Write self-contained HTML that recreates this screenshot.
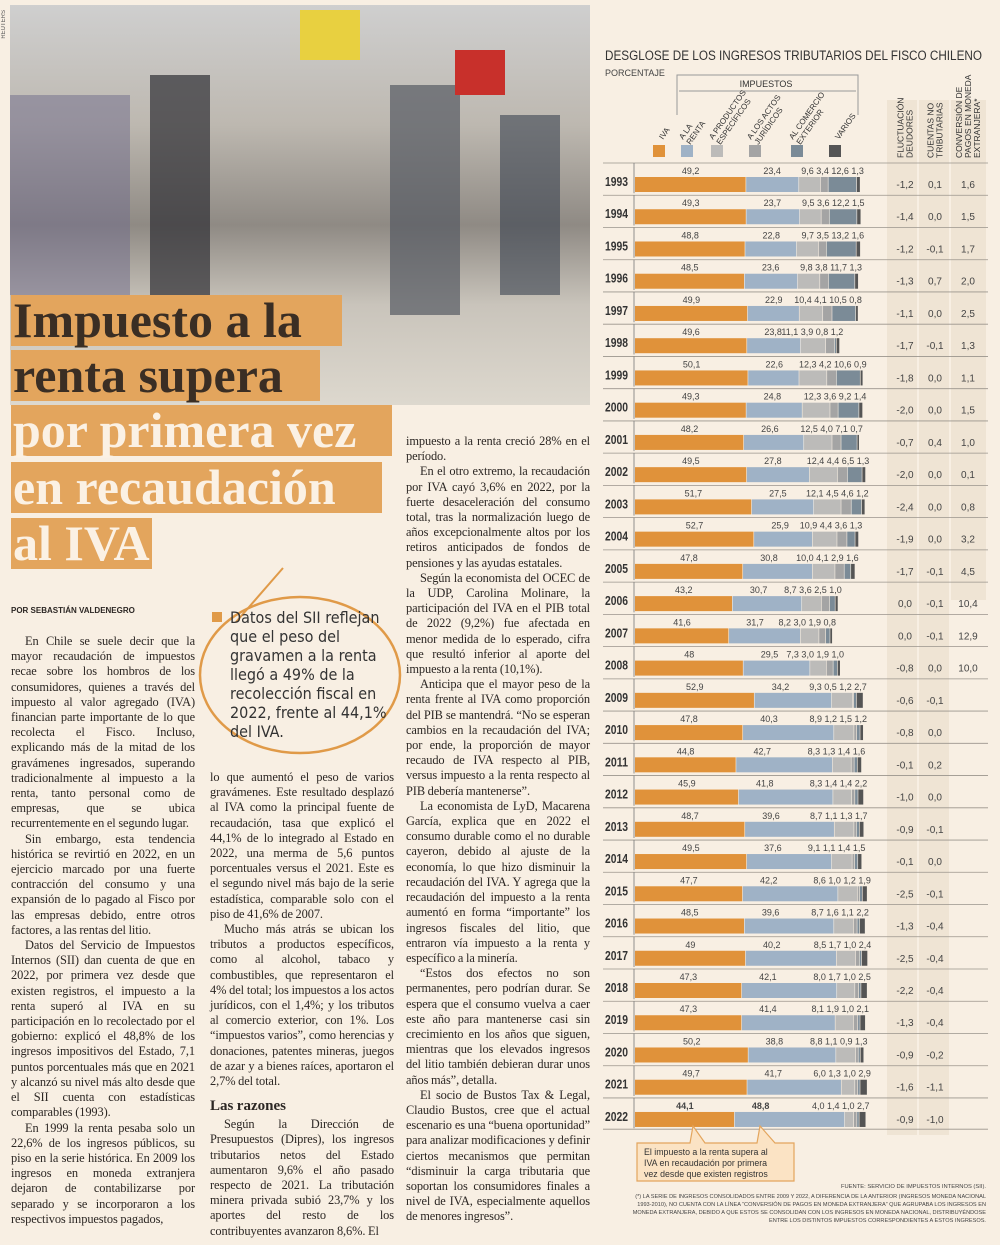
<!DOCTYPE html>
<html><head><meta charset="utf-8">
<style>
*{margin:0;padding:0;box-sizing:border-box}
body{width:1000px;height:1245px;background:#f8efe3;position:relative;overflow:hidden;font-family:"Liberation Serif",serif;color:#2c2724}
.photo{position:absolute;left:10px;top:5px;width:580px;height:400px;background:linear-gradient(180deg,#cfcfcf 0%,#bdb8b0 30%,#8f8a84 55%,#c9c4bb 75%,#ddd8ce 100%)}
.hl{position:absolute;left:11px;height:51px;background:#e3a55d;font-family:"Liberation Serif",serif;font-weight:bold;font-size:50px;line-height:51px;padding-left:2px;white-space:nowrap}
.dark{color:#3a2e24}.light{color:#fbf1e4}
.col{position:absolute;font-size:12.4px;line-height:15.2px;text-align:justify;letter-spacing:-0.1px;word-spacing:-0.3px}
.col p{text-indent:14px}
.byline{position:absolute;left:11px;top:606px;font:bold 8px "Liberation Sans",sans-serif}
.pq{position:absolute;left:230px;top:608px;width:160px;font:16px/19px "DejaVu Sans Condensed","DejaVu Sans",sans-serif;color:#333}
</style></head><body>
<div class="photo">
 <div style="position:absolute;left:0;top:90px;width:120px;height:200px;background:#6e6a8a;opacity:.5"></div>
 <div style="position:absolute;left:140px;top:70px;width:60px;height:230px;background:#2f2f35;opacity:.7"></div>
 <div style="position:absolute;left:380px;top:80px;width:70px;height:230px;background:#555a63;opacity:.7"></div>
 <div style="position:absolute;left:490px;top:110px;width:60px;height:180px;background:#3b4250;opacity:.6"></div>
 <div style="position:absolute;left:290px;top:5px;width:60px;height:50px;background:#e8d040"></div>
 <div style="position:absolute;left:445px;top:45px;width:50px;height:45px;background:#c8302b"></div>
</div>
<div style="position:absolute;left:1px;top:10px;font:6px 'Liberation Sans',sans-serif;writing-mode:vertical-rl;transform:rotate(180deg);color:#555">REUTERS</div>
<div class="hl dark" style="top:295px;width:331px">Impuesto a la</div>
<div class="hl dark" style="top:350px;width:309px">renta supera</div>
<div class="hl light" style="top:405px;width:381px">por primera vez</div>
<div class="hl light" style="top:462px;width:371px">en recaudación</div>
<div class="hl light" style="top:518px;width:141px">al IVA</div>

<svg style="position:absolute;left:0;top:0" width="600" height="800">
 <ellipse cx="300" cy="675" rx="100" ry="78" fill="none" stroke="#e09a48" stroke-width="2.5"/>
 <line x1="283" y1="568" x2="236" y2="622" stroke="#e09a48" stroke-width="2"/>
 <rect x="212" y="612" width="10" height="10" fill="#e09a48"/>
</svg>
<div class="pq">Datos del SII reflejan que el peso del gravamen a la renta llegó a 49% de la recolección fiscal en 2022, frente al 44,1% del IVA.</div>
<div class="byline">POR SEBASTIÁN VALDENEGRO</div>

<div class="col" style="left:11px;top:634px;width:184px">
<p>En Chile se suele decir que la mayor recaudación de impuestos recae sobre los hombros de los consumidores, quienes a través del impuesto al valor agregado (IVA) financian parte importante de lo que recolecta el Fisco. Incluso, explicando más de la mitad de los gravámenes ingresados, superando tradicionalmente al impuesto a la renta, tanto personal como de empresas, que se ubica recurrentemente en el segundo lugar.</p>
<p>Sin embargo, esta tendencia histórica se revirtió en 2022, en un ejercicio marcado por una fuerte contracción del consumo y una expansión de lo pagado al Fisco por las empresas debido, entre otros factores, a las rentas del litio.</p>
<p>Datos del Servicio de Impuestos Internos (SII) dan cuenta de que en 2022, por primera vez desde que existen registros, el impuesto a la renta superó al IVA en su participación en lo recolectado por el gobierno: explicó el 48,8% de los ingresos impositivos del Estado, 7,1 puntos porcentuales más que en 2021 y alcanzó su nivel más alto desde que el SII cuenta con estadísticas comparables (1993).</p>
<p>En 1999 la renta pesaba solo un 22,6% de los ingresos públicos, su piso en la serie histórica. En 2009 los ingresos en moneda extranjera dejaron de contabilizarse por separado y se incorporaron a los respectivos impuestos pagados,</p>
</div>
<div class="col" style="left:210px;top:770px;width:184px">
<p style="text-indent:0">lo que aumentó el peso de varios gravámenes. Este resultado desplazó al IVA como la principal fuente de recaudación, tasa que explicó el 44,1% de lo integrado al Estado en 2022, una merma de 5,6 puntos porcentuales versus el 2021. Este es el segundo nivel más bajo de la serie estadística, comparable solo con el piso de 41,6% de 2007.</p>
<p>Mucho más atrás se ubican los tributos a productos específicos, como al alcohol, tabaco y combustibles, que representaron el 4% del total; los impuestos a los actos jurídicos, con el 1,4%; y los tributos al comercio exterior, con 1%. Los “impuestos varios”, como herencias y donaciones, patentes mineras, juegos de azar y a bienes raíces, aportaron el 2,7% del total.</p>
<div style="font:bold 15px/22px 'Liberation Serif',serif;margin-top:6px;letter-spacing:0">Las razones</div>
<p>Según la Dirección de Presupuestos (Dipres), los ingresos tributarios netos del Estado aumentaron 9,6% el año pasado respecto de 2021. La tributación minera privada subió 23,7% y los aportes del resto de los contribuyentes avanzaron 8,6%. El</p>
</div>
<div class="col" style="left:406px;top:434px;width:184px">
<p style="text-indent:0">impuesto a la renta creció 28% en el período.</p>
<p>En el otro extremo, la recaudación por IVA cayó 3,6% en 2022, por la fuerte desaceleración del consumo total, tras la normalización luego de años excepcionalmente altos por los retiros anticipados de fondos de pensiones y las ayudas estatales.</p>
<p>Según la economista del OCEC de la UDP, Carolina Molinare, la participación del IVA en el PIB total de 2022 (9,2%) fue afectada en menor medida de lo esperado, cifra que resultó inferior al aporte del impuesto a la renta (10,1%).</p>
<p>Anticipa que el mayor peso de la renta frente al IVA como proporción del PIB se mantendrá. “No se esperan cambios en la recaudación del IVA; por ende, la proporción de mayor recaudo de IVA respecto al PIB, versus impuesto a la renta respecto al PIB debería mantenerse”.</p>
<p>La economista de LyD, Macarena García, explica que en 2022 el consumo durable como el no durable cayeron, debido al ajuste de la economía, lo que hizo disminuir la recaudación del IVA. Y agrega que la recaudación del impuesto a la renta aumentó en forma “importante” los ingresos fiscales del litio, que entraron vía impuesto a la renta y específico a la minería.</p>
<p>“Estos dos efectos no son permanentes, pero podrían durar. Se espera que el consumo vuelva a caer este año para mantenerse casi sin crecimiento en los años que siguen, mientras que los elevados ingresos del litio también debieran durar unos años más”, detalla.</p>
<p>El socio de Bustos Tax &amp; Legal, Claudio Bustos, cree que el actual escenario es una “buena oportunidad” para analizar modificaciones y definir ciertos mecanismos que permitan “disminuir la carga tributaria que soportan los consumidores finales a nivel de IVA, especialmente aquellos de menores ingresos”.</p>
</div>

<svg id="chart" style="position:absolute;left:0;top:0" width="1000" height="1245" font-family="Liberation Sans, sans-serif">
 <rect x="887" y="100" width="30" height="1035" fill="#efe4d4"/>
 <rect x="919" y="100" width="30" height="1035" fill="#efe4d4"/>
 <rect x="951" y="100" width="35" height="500" fill="#efe4d4"/>
 <text x="605" y="60" font-size="13.5" fill="#333" textLength="377" lengthAdjust="spacingAndGlyphs">DESGLOSE DE LOS INGRESOS TRIBUTARIOS DEL FISCO CHILENO</text>
 <text x="605" y="76" font-size="9" fill="#444">PORCENTAJE</text>
 <path d="M677 115 V75 H858 V115" fill="none" stroke="#999" stroke-width="1"/>
 <line x1="679" y1="91" x2="856" y2="91" stroke="#999"/>
 <text x="766" y="87" font-size="9" text-anchor="middle" fill="#333">IMPUESTOS</text>
 <g id="legend"></g>
 <g id="colhdr" font-size="8.5" fill="#333"></g>
 <g id="rows"></g>
 <g>
  <path d="M637 1143 H690 L693 1126 L705 1143 H757 L760 1126 L775 1143 H794 V1181 H637 Z" fill="#fbe3c4" stroke="#e3a55d" stroke-width="1.2"/>
  <text font-size="8.8" fill="#333"><tspan x="644" y="1155">El impuesto a la renta supera al</tspan><tspan x="644" y="1166">IVA en recaudación por primera</tspan><tspan x="644" y="1177">vez desde que existen registros</tspan></text>
 </g>
 <text x="986" y="1188" font-size="5.8" text-anchor="end" fill="#444">FUENTE: SERVICIO DE IMPUESTOS INTERNOS (SII).</text>
 <text font-size="5.6" fill="#444" text-anchor="end"><tspan x="986" y="1198">(*) LA SERIE DE INGRESOS CONSOLIDADOS ENTRE 2009 Y 2022, A DIFERENCIA DE LA ANTERIOR (INGRESOS MONEDA NACIONAL</tspan><tspan x="986" y="1206">1993-2010), NO CUENTA CON LA LÍNEA “CONVERSIÓN DE PAGOS EN MONEDA EXTRANJERA” QUE AGRUPABA LOS INGRESOS EN</tspan><tspan x="986" y="1214">MONEDA EXTRANJERA, DEBIDO A QUE ESTOS SE CONSOLIDAN CON LOS INGRESOS EN MONEDA NACIONAL, DISTRIBUYÉNDOSE</tspan><tspan x="986" y="1222">ENTRE LOS DISTINTOS IMPUESTOS CORRESPONDIENTES A ESTOS INGRESOS.</tspan></text>
</svg>
<script>
const years=[1993,1994,1995,1996,1997,1998,1999,2000,2001,2002,2003,2004,2005,2006,2007,2008,2009,2010,2011,2012,2013,2014,2015,2016,2017,2018,2019,2020,2021,2022];
const iva=[49.2,49.3,48.8,48.5,49.9,49.6,50.1,49.3,48.2,49.5,51.7,52.7,47.8,43.2,41.6,48,52.9,47.8,44.8,45.9,48.7,49.5,47.7,48.5,49,47.3,47.3,50.2,49.7,44.1];
const renta=[23.4,23.7,22.8,23.6,22.9,23.8,22.6,24.8,26.6,27.8,27.5,25.9,30.8,30.7,31.7,29.5,34.2,40.3,42.7,41.8,39.6,37.6,42.2,39.6,40.2,42.1,41.4,38.8,41.7,48.8];
const productos=[9.6,9.5,9.7,9.8,10.4,11.1,12.3,12.3,12.5,12.4,12.1,10.9,10.0,8.7,8.2,7.3,9.3,8.9,8.3,8.3,8.7,9.1,8.6,8.7,8.5,8.0,8.1,8.8,6.0,4.0];
const actos=[3.4,3.6,3.5,3.8,4.1,3.9,4.2,3.6,4.0,4.4,4.5,4.4,4.1,3.6,3.0,3.0,0.5,1.2,1.3,1.4,1.1,1.1,1.0,1.6,1.7,1.7,1.9,1.1,1.3,1.4];
const comercio=[12.6,12.2,13.2,11.7,10.5,0.8,10.6,9.2,7.1,6.5,4.6,3.6,2.9,2.5,1.9,1.9,1.2,1.5,1.4,1.4,1.3,1.4,1.2,1.1,1.0,1.0,1.0,0.9,1.0,1.0];
const varios=[1.3,1.5,1.6,1.3,0.8,1.2,0.9,1.4,0.7,1.3,1.2,1.3,1.6,1.0,0.8,1.0,2.7,1.2,1.6,2.2,1.7,1.5,1.9,2.2,2.4,2.5,2.1,1.3,2.9,2.7];
const fluct=[-1.2,-1.4,-1.2,-1.3,-1.1,-1.7,-1.8,-2.0,-0.7,-2.0,-2.4,-1.9,-1.7,0.0,0.0,-0.8,-0.6,-0.8,-0.1,-1.0,-0.9,-0.1,-2.5,-1.3,-2.5,-2.2,-1.3,-0.9,-1.6,-0.9];
const cuentas=[0.1,0.0,-0.1,0.7,0.0,-0.1,0.0,0.0,0.4,0.0,0.0,0.0,-0.1,-0.1,-0.1,0.0,-0.1,0.0,0.2,0.0,-0.1,0.0,-0.1,-0.4,-0.4,-0.4,-0.4,-0.2,-1.1,-1.0];
const conversion=[1.6,1.5,1.7,2.0,2.5,1.3,1.1,1.5,1.0,0.1,0.8,3.2,4.5,10.4,12.9,10.0,null,null,null,null,null,null,null,null,null,null,null,null,null,null];
const series=[iva,renta,productos,actos,comercio,varios];
const colors=["#e0923a","#9fb2c6","#bcbbb9","#a4a4a4","#7b8b97","#555555"];
const legendLines=[["IVA"],["A LA","RENTA"],["A PRODUCTOS","ESPECÍFICOS"],["A LOS ACTOS","JURÍDICOS"],["AL COMERCIO","EXTERIOR"],["VARIOS"]];
const ns="http://www.w3.org/2000/svg";
const X0=635,K=2.26,Y0=163,RH=32.24;
const x=v=>X0+v*K, yRow=i=>Y0+i*RH;
const fmt=v=>(Number.isInteger(v)&&Math.abs(v)>20?String(v):v.toFixed(1)).replace('.',',');
function mk(tag,attrs,parent,text){const e=document.createElementNS(ns,tag);for(const k in attrs)e.setAttribute(k,attrs[k]);if(text!==undefined)e.textContent=text;parent.appendChild(e);return e;}
const lg=document.getElementById('legend');
const lx=[653,681,711,749,791,829];
legendLines.forEach((lines,i)=>{
 const r=mk('rect',{x:lx[i],y:145,width:12,height:12,fill:colors[i]},lg);
 
 
 const t=mk('text',{'font-size':8,fill:'#333',transform:`translate(${lx[i]+(lines.length>1?2:10)},140) rotate(-55)`},lg);
 
 
 lines.forEach((l,j)=>{mk('tspan',{x:0,dy:j?9:0},t,l);});
});
const ch=document.getElementById('colhdr');
[[905,["FLUCTUACIÓN","DEUDORES"]],[935,["CUENTAS NO","TRIBUTARIAS"]],[968,["CONVERSIÓN DE","PAGOS EN MONEDA","EXTRANJERA*"]]].forEach(([cx,ls])=>{
 const t=mk('text',{transform:`translate(${cx-(ls.length-1)*4.5+3},158) rotate(-90)`},ch);
 
 
 ls.forEach((l,j)=>{mk('tspan',{x:0,dy:j?9:0},t,l);});
});
const rg=document.getElementById('rows');
years.forEach((yr,i)=>{
 const top=yRow(i);
 const g=mk('g',{},rg);
 
 
 mk('line',{x1:603,x2:988,y1:top,y2:top,stroke:'#9a948c','stroke-width':0.8},g);
 mk('line',{x1:634,x2:634,y1:top,y2:top+RH-2,stroke:'#777','stroke-width':0.8},g);
 mk('text',{x:605,y:top+23,'font-size':13,'font-weight':'bold',fill:'#333',textLength:23,lengthAdjust:'spacingAndGlyphs'},g,String(yr));
 let acc=0;
 series.forEach((s,k)=>{
  const seg=mk('rect',{x:x(acc),y:top+14,width:Math.max(0,s[i]*K-(k<5?0.6:0)),height:15,fill:colors[k]},g);
  
  
  acc+=s[i];
 });
 const bold=yr===2022?'bold':'normal';
 mk('text',{x:(X0+x(iva[i]))/2,y:top+11,'font-size':9,'text-anchor':'middle',fill:'#444','font-weight':bold},g,fmt(iva[i]));
 mk('text',{x:x(iva[i])+26,y:top+11,'font-size':9,'text-anchor':'middle',fill:'#444','font-weight':bold},g,fmt(renta[i]));
 mk('text',{x:x(acc)+4,y:top+11,'font-size':9,'text-anchor':'end',fill:'#444'},g,[productos[i],actos[i],comercio[i],varios[i]].map(fmt).join(' '));
 mk('text',{x:905,y:top+25,'font-size':10,'text-anchor':'middle',fill:'#444'},g,fmt(fluct[i]));
 mk('text',{x:935,y:top+25,'font-size':10,'text-anchor':'middle',fill:'#444'},g,fmt(cuentas[i]));
 if(conversion[i]!==null)mk('text',{x:968,y:top+25,'font-size':10,'text-anchor':'middle',fill:'#444'},g,fmt(conversion[i]));
});
mk('line',{x1:603,x2:988,y1:yRow(30)-1,y2:yRow(30)-1,stroke:'#9a948c','stroke-width':0.8},rg);
</script>
</body></html>
